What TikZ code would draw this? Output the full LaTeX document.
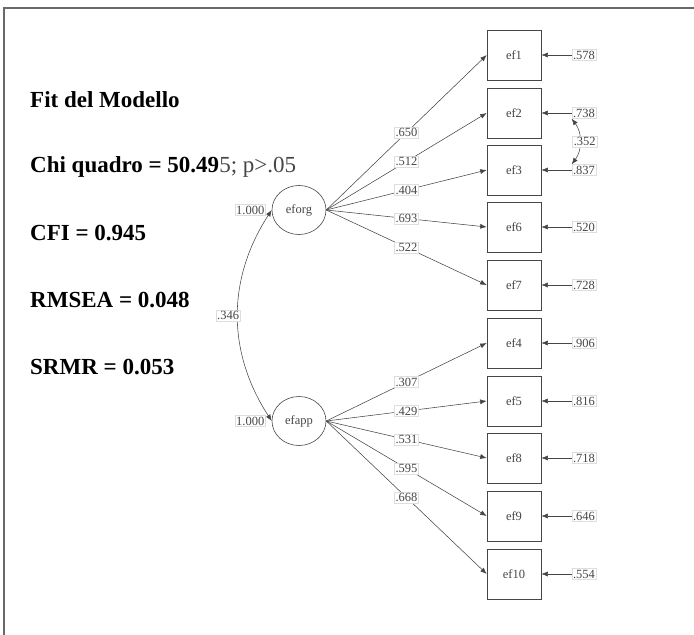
\documentclass[tikz,border=0pt]{standalone}
\usepackage{fontspec}
\setmainfont{Liberation Serif}
\usepackage{tikz}
\usetikzlibrary{shapes.geometric, arrows.meta, positioning}
\definecolor{semgray}{RGB}{70,70,70}
\definecolor{lblgray}{RGB}{222,222,222}
\definecolor{framegray}{RGB}{105,105,105}

\begin{document}
\begin{tikzpicture}[x=1pt, y=-1pt,
  obs/.style={rectangle, draw=semgray, line width=0.6pt, minimum width=54pt, minimum height=50pt, font=\fontsize{12.5}{14}\selectfont, text=semgray},
  lat/.style={ellipse, draw=semgray, line width=0.6pt, minimum width=54pt, minimum height=49pt, inner sep=0pt, font=\fontsize{12.5}{14}\selectfont, text=semgray},
  lbl/.style={rectangle, draw=lblgray, fill=white, inner sep=1.2pt, font=\fontsize{12.5}{14}\selectfont, text=semgray},
  fitidx/.style={anchor=base west, inner sep=0pt, font=\fontsize{23}{27}\selectfont\bfseries},
  arr/.style={-{Latex[length=6.5pt,width=5pt]}, semgray, line width=0.55pt},
  cov/.style={{Latex[length=6.5pt,width=5pt]}-{Latex[length=6.5pt,width=5pt]}, semgray, line width=0.55pt},
]
  \useasboundingbox (0,0) rectangle (694,635);
  \draw[framegray, line width=2.2pt] (4,640) -- (4,8) -- (700,8);

  % Fit indices (left)
  \node[fitidx] (fitttl) at (30,107) {Fit del Modello};
  \node[fitidx] (chi)  at (30,172) {Chi quadro = 50.49{\mdseries\color{semgray}5; p>.05}};
  \node[fitidx] (cfi)  at (30,240) {CFI = 0.945};
  \node[fitidx] (rmsea) at (30,307) {RMSEA = 0.048};
  \node[fitidx] (srmr) at (30,374) {SRMR = 0.053};

  % Latent factors
  \node[lat] (eforg) at (299,210) {eforg};
  \node[lat] (efapp) at (299,421) {efapp};
  \node[lbl, left=6pt of eforg] (veforg) {1.000};
  \node[lbl, left=6pt of efapp] (vefapp) {1.000};
  \draw[cov] (eforg.west) to[bend right=33] node[lbl, xshift=-10pt] {.346} (efapp.west);

  % Indicators
  \node[obs] (ef1)  at (514,55)  {ef1};
  \node[obs] (ef2)  at (514,113) {ef2};
  \node[obs] (ef3)  at (514,170) {ef3};
  \node[obs] (ef6)  at (514,227) {ef6};
  \node[obs] (ef7)  at (514,285) {ef7};
  \node[obs] (ef4)  at (514,343) {ef4};
  \node[obs] (ef5)  at (514,401) {ef5};
  \node[obs] (ef8)  at (514,458) {ef8};
  \node[obs] (ef9)  at (514,516) {ef9};
  \node[obs] (ef10) at (514,574) {ef10};

  % Loadings
  \draw[arr] (eforg.east) -- node[lbl] {.650} (ef1.west);
  \draw[arr] (eforg.east) -- node[lbl] {.512} (ef2.west);
  \draw[arr] (eforg.east) -- node[lbl] {.404} (ef3.west);
  \draw[arr] (eforg.east) -- node[lbl] {.693} (ef6.west);
  \draw[arr] (eforg.east) -- node[lbl] {.522} (ef7.west);
  \draw[arr] (efapp.east) -- node[lbl] {.307} (ef4.west);
  \draw[arr] (efapp.east) -- node[lbl] {.429} (ef5.west);
  \draw[arr] (efapp.east) -- node[lbl] {.531} (ef8.west);
  \draw[arr] (efapp.east) -- node[lbl] {.595} (ef9.west);
  \draw[arr] (efapp.east) -- node[lbl] {.668} (ef10.west);

  % Errors
  \node[lbl] (e1)  at (584,55)  {.578};
  \node[lbl] (e2)  at (584,113) {.738};
  \node[lbl] (e3)  at (584,170) {.837};
  \node[lbl] (e6)  at (584,227) {.520};
  \node[lbl] (e7)  at (584,285) {.728};
  \node[lbl] (e4)  at (584,343) {.906};
  \node[lbl] (e5)  at (584,401) {.816};
  \node[lbl] (e8)  at (584,458) {.718};
  \node[lbl] (e9)  at (584,516) {.646};
  \node[lbl] (e10) at (584,574) {.554};
  \draw[arr] (e1) -- (ef1);
  \draw[arr] (e2) -- (ef2);
  \draw[arr] (e3) -- (ef3);
  \draw[arr] (e6) -- (ef6);
  \draw[arr] (e7) -- (ef7);
  \draw[arr] (e4) -- (ef4);
  \draw[arr] (e5) -- (ef5);
  \draw[arr] (e8) -- (ef8);
  \draw[arr] (e9) -- (ef9);
  \draw[arr] (e10) -- (ef10);
  \draw[cov] (e2.south west) to[bend left=37] node[lbl, xshift=5pt] {.352} (e3.north west);
\end{tikzpicture}
\end{document}
